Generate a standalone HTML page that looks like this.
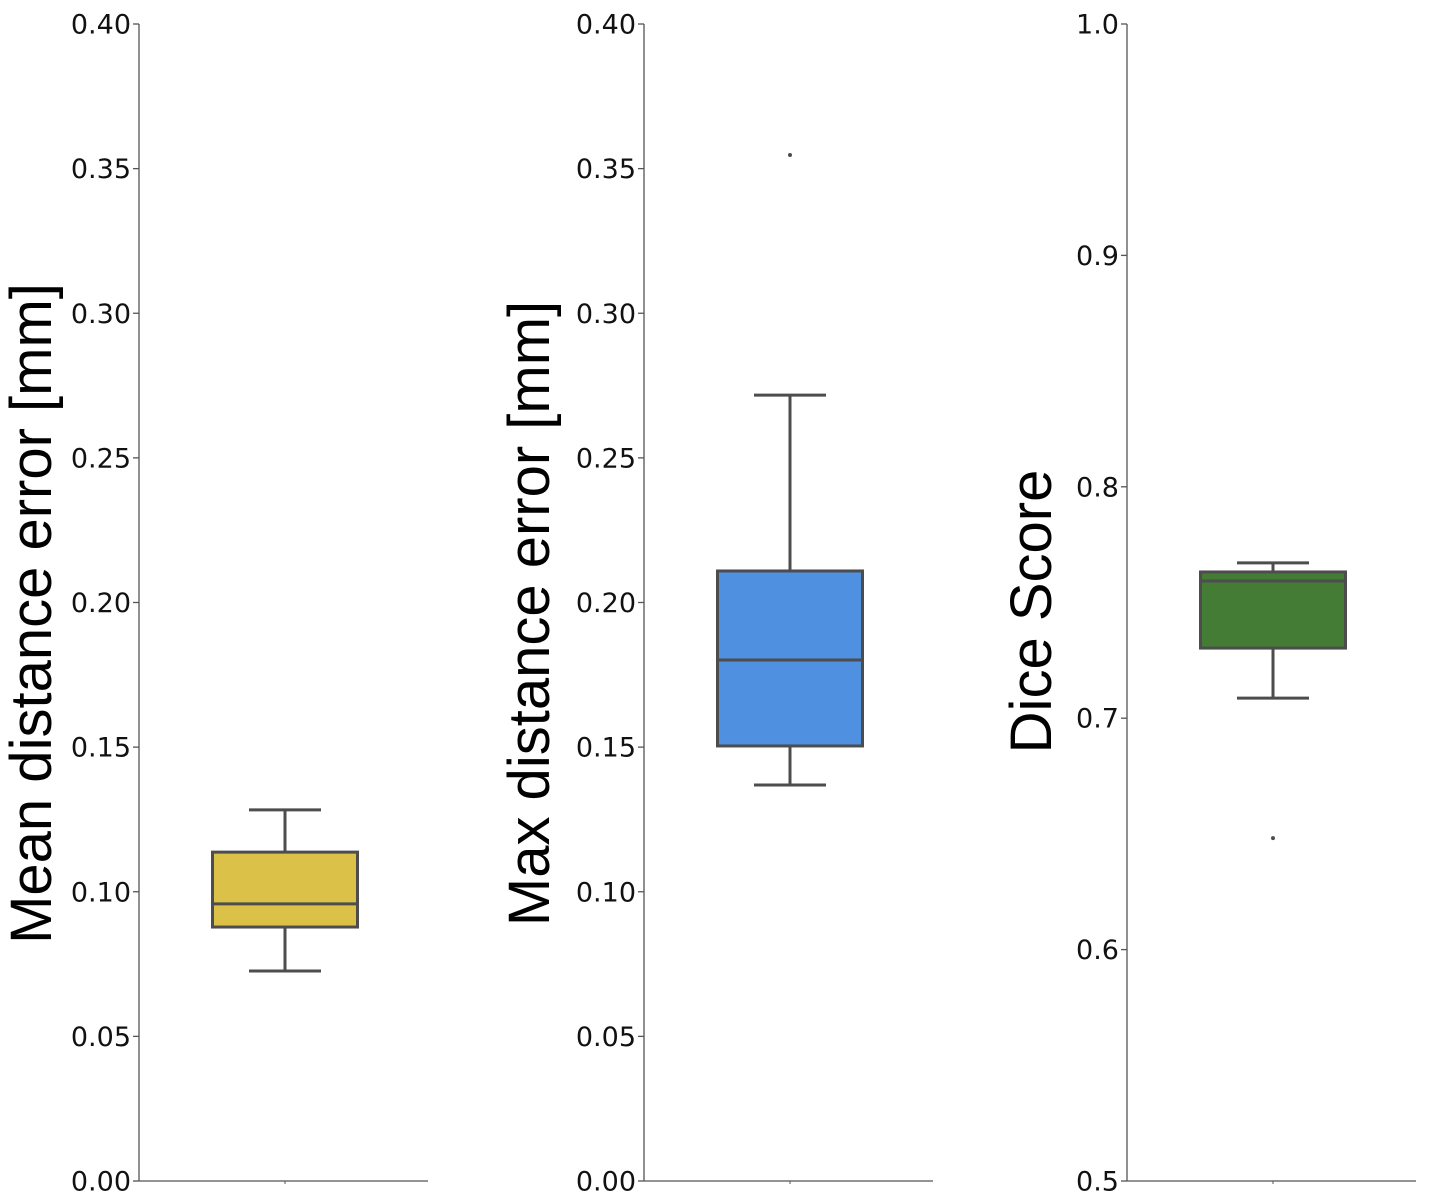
<!DOCTYPE html>
<html><head><meta charset="utf-8"><style>
html,body{margin:0;padding:0;background:#fff;}
svg{display:block;font-family:"Liberation Sans",sans-serif;}
</style></head><body>
<svg id="chart" width="1432" height="1200"></svg>
<script>
const panelNames = ["mean-distance-error", "max-distance-error", "dice-score"];
const yLabels = ["Mean distance error [mm]", "Max distance error [mm]", "Dice Score"];
const yMins = [0, 0, 0.5];
const yMaxs = [0.4, 0.4, 1.0];
const tickLabels = [
  ["0.00","0.05","0.10","0.15","0.20","0.25","0.30","0.35","0.40"],
  ["0.00","0.05","0.10","0.15","0.20","0.25","0.30","0.35","0.40"],
  ["0.5","0.6","0.7","0.8","0.9","1.0"]
];
const whiskerLow = [0.0726, 0.1369, 0.7087];
const q1 = [0.0878, 0.1504, 0.7303];
const median = [0.0958, 0.1801, 0.7593];
const q3 = [0.1137, 0.2109, 0.7632];
const whiskerHigh = [0.1283, 0.2717, 0.7671];
const outliers = [[], [0.3547], [0.6482]];
const colors = ["#dcc149", "#4f90e0", "#447c36"];

const svg = document.getElementById('chart');
const NS = "http://www.w3.org/2000/svg";
function mk(tag, attrs, parent){
  const e = document.createElementNS(NS, tag);
  for (const k in attrs) e.setAttribute(k, attrs[k]);
  (parent||svg).appendChild(e);
  return e;
}
const axisX = [139, 644, 1127];
const axisW = 289, yTop = 24, yBot = 1181;
const labelX = [31, 529, 1031];
const labelDY = [11, 11, 9];
const gray = "#4d4d4d";
for (let p = 0; p < 3; p++) {
  const g = mk('g', {});
  
  
  const x0 = axisX[p];
  const y = v => yBot - (v - yMins[p]) / (yMaxs[p] - yMins[p]) * (yBot - yTop);
  const cx = x0 + 146;
  const ya = mk('line', {x1:x0, y1:yTop, x2:x0, y2:yBot, stroke:'#555', 'stroke-width':1.3}, g);
  
  
  const xa = mk('line', {x1:x0, y1:yBot, x2:x0+axisW, y2:yBot, stroke:'#555', 'stroke-width':1.3}, g);
  
  
  mk('line', {x1:cx, y1:yBot, x2:cx, y2:yBot+3, stroke:'#555', 'stroke-width':1}, g);
  const labs = tickLabels[p];
  labs.forEach((t) => {
    const v = parseFloat(t);
    const yy = y(v);
    mk('line', {x1:x0-6, y1:yy, x2:x0, y2:yy, stroke:'#555', 'stroke-width':1.3}, g);
    const tx = mk('text', {x:x0-8, y:yy+9.5, 'text-anchor':'end', 'font-size':27, fill:'#111', 'font-family':'"DejaVu Sans", sans-serif'}, g);
    tx.textContent = t;
    
    
  });
  const lab = mk('text', {x:0, y:0, transform:`translate(${labelX[p]+20},${(yTop+yBot)/2+labelDY[p]}) rotate(-90)`, 'text-anchor':'middle', 'font-size':58, fill:'#000'}, g);
  lab.textContent = yLabels[p];
  
  
  const hw = 36, bw = 72.5;
  mk('line', {x1:cx, y1:y(whiskerHigh[p]), x2:cx, y2:y(q3[p]), stroke:gray, 'stroke-width':3}, g);
  mk('line', {x1:cx, y1:y(q1[p]), x2:cx, y2:y(whiskerLow[p]), stroke:gray, 'stroke-width':3}, g);
  mk('line', {x1:cx-hw, y1:y(whiskerHigh[p]), x2:cx+hw, y2:y(whiskerHigh[p]), stroke:gray, 'stroke-width':3}, g);
  mk('line', {x1:cx-hw, y1:y(whiskerLow[p]), x2:cx+hw, y2:y(whiskerLow[p]), stroke:gray, 'stroke-width':3}, g);
  const box = mk('rect', {x:cx-bw, y:y(q3[p]), width:bw*2, height:y(q1[p])-y(q3[p]), fill:colors[p], stroke:gray, 'stroke-width':3}, g);
  
  
  const med = mk('line', {x1:cx-bw, y1:y(median[p]), x2:cx+bw, y2:y(median[p]), stroke:gray, 'stroke-width':3}, g);
  
  
  outliers[p].forEach(o => {
    const c = mk('circle', {cx:cx, cy:y(o), r:2, fill:gray}, g);
    
    
  });
}
</script>
</body></html>
